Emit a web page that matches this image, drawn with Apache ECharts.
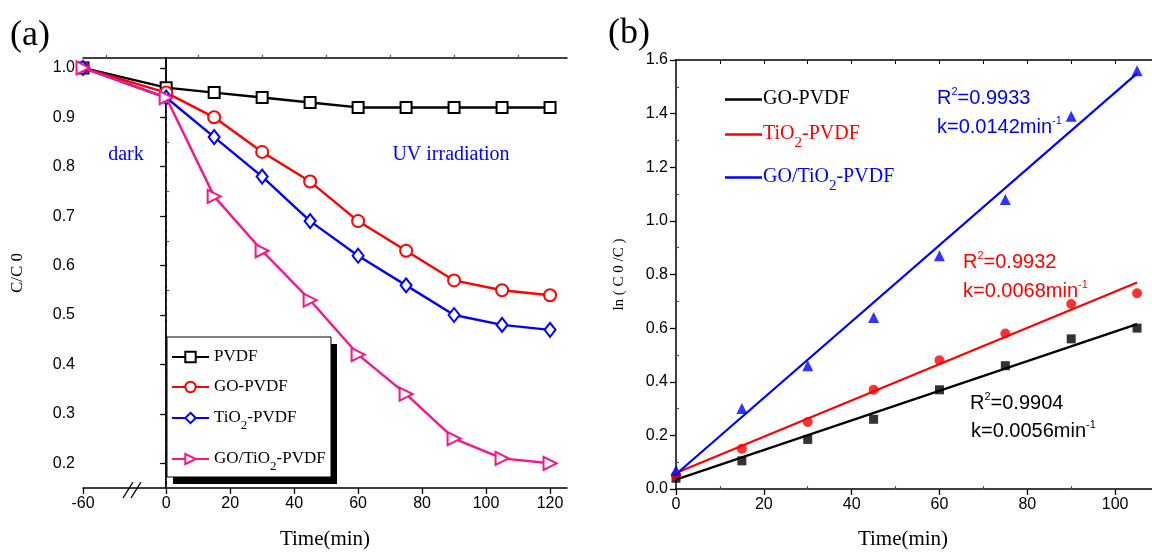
<!DOCTYPE html>
<html><head><meta charset="utf-8">
<script src="https://cdn.jsdelivr.net/npm/echarts@6/dist/echarts.min.js"></script>
<style>html,body{margin:0;padding:0;background:#fff}#c{width:1152px;height:555px}</style>
</head><body><div id="c"></div>
<script>
// ---------- Panel (a) data ----------
const timeA = [-60, 0, 15, 30, 45, 60, 75, 90, 105, 120];
const pvdf       = [1.00, 0.96, 0.95, 0.94, 0.93, 0.92, 0.92, 0.92, 0.92, 0.92];
const goPvdf     = [1.00, 0.95, 0.90, 0.83, 0.77, 0.69, 0.63, 0.57, 0.55, 0.54];
const tio2Pvdf   = [1.00, 0.94, 0.86, 0.78, 0.69, 0.62, 0.56, 0.50, 0.48, 0.47];
const goTio2Pvdf = [1.00, 0.94, 0.74, 0.63, 0.53, 0.42, 0.34, 0.25, 0.21, 0.20];
const xTicksA = [-60, 0, 20, 40, 60, 80, 100, 120];
const yTicksA = [0.2, 0.3, 0.4, 0.5, 0.6, 0.7, 0.8, 0.9, 1.0];
const darkEnd = 0;
const namesA = ['PVDF', 'GO-PVDF', 'TiO2-PVDF', 'GO/TiO2-PVDF'];

// ---------- Panel (b) data ----------
const timeB = [0, 15, 30, 45, 60, 75, 90, 105];
const lnGo     = [0.04, 0.105, 0.185, 0.26, 0.37, 0.46, 0.56, 0.60];
const lnTio2   = [0.05, 0.15, 0.25, 0.37, 0.48, 0.58, 0.69, 0.73];
const lnGoTio2 = [0.07, 0.30, 0.46, 0.64, 0.87, 1.08, 1.39, 1.56];
const fitTime    = [0, 105];
const fitGo      = [0.035, 0.615];
const fitTio2    = [0.06, 0.77];
const fitGoTio2  = [0.055, 1.55];
const xTicksB = [0, 20, 40, 60, 80, 100];
const namesB = ['GO-PVDF', 'TiO2-PVDF', 'GO/TiO2-PVDF'];
const fitTexts = [
  ['0.9904', '0.0056'],
  ['0.9932', '0.0068'],
  ['0.9933', '0.0142']
];

// ---------- helpers ----------
const SERIF = 'Liberation Serif';
const SANS = 'Liberation Sans';
const BREAK_U = -26;               // axis position used for the broken -60 segment
const xA = t => (t < 0 ? BREAK_U * (t / -60) : t);
const mapA = arr => timeA.map((t, i) => [xA(t), arr[i]]);
const mapB = (xs, arr) => xs.map((t, i) => [t, arr[i]]);
const PFX = 'b:';
const subFmt = name => name.replace(PFX, '').replace(/TiO2/g, 'TiO}{s|2}{n|').replace(/^/, '{n|') + '}';

const colA = ['#000000', '#ff0000', '#0000ff', '#f5168a'];
const colB = ['#000000', '#ff0000', '#0000ff'];

const chart = echarts.init(document.getElementById('c'), null, {renderer: 'canvas'});

const lblStyle = {fontFamily: SANS, fontSize: 16, color: '#000'};
const axLine = {lineStyle: {color: '#000', width: 1.5}};

const xAxisA_major = xTicksA.map(xA);
const xAxisA_minor = [-18.75, 10, 30, 50, 70, 90, 110];
const yA_minor = [0.25, 0.35, 0.45, 0.55, 0.65, 0.75, 0.85, 0.95];
const xB_minor = [10, 30, 50, 70, 90];
const xB_top = [10, 20, 30, 40, 50, 60, 70, 80, 90, 100];
const yB_minor = [0.1, 0.3, 0.5, 0.7, 0.9, 1.1, 1.3, 1.5];
const XB_MAX = 108.4;

const option = {
  backgroundColor: '#fff',
  animation: false,
  grid: [
    {left: 83, top: 58, width: 484, height: 432, show: false},
    {left: 676, top: 60, right: 0, height: 433, show: false}
  ],
  xAxis: [
    {gridIndex: 0, type: 'value', min: BREAK_U, max: 125.3, axisLine: axLine,
     axisTick: {length: 6, lineStyle: {width: 1.3}, customValues: xAxisA_major},
     axisLabel: Object.assign({customValues: xAxisA_major, margin: 8,
       formatter: v => (v === BREAK_U ? String(xTicksA[0]) : String(v))}, lblStyle),
     splitLine: {show: false},
     name: 'Time(min)', nameLocation: 'middle', nameGap: 41,
     nameTextStyle: {fontFamily: SERIF, fontSize: 21, color: '#000'}},
    {gridIndex: 0, type: 'value', min: BREAK_U, max: 125.3, axisLine: {show: false},
     axisTick: {length: 3, lineStyle: {width: 1.2}, customValues: xAxisA_minor},
     axisLabel: {show: false}, splitLine: {show: false}},
    {gridIndex: 0, type: 'value', position: 'top', min: BREAK_U, max: 125.3, axisLine: axLine,
     axisTick: {show: false}, axisLabel: {show: false}, splitLine: {show: false}},
    {gridIndex: 1, type: 'value', min: 0, max: XB_MAX, axisLine: axLine,
     axisTick: {length: 6, lineStyle: {width: 1.3}, customValues: xTicksB},
     axisLabel: Object.assign({customValues: xTicksB, margin: 8}, lblStyle),
     splitLine: {show: false},
     name: 'Time(min)', nameLocation: 'middle', nameGap: 40,
     nameTextStyle: {fontFamily: SERIF, fontSize: 21, color: '#000', padding: [0, 22, 0, 0]}},
    {gridIndex: 1, type: 'value', min: 0, max: XB_MAX, axisLine: {show: false},
     axisTick: {length: 3, lineStyle: {width: 1.2}, customValues: xB_minor},
     axisLabel: {show: false}, splitLine: {show: false}},
    {gridIndex: 1, type: 'value', position: 'top', min: 0, max: XB_MAX, axisLine: axLine,
     axisTick: {inside: true, length: 4, lineStyle: {width: 1}, customValues: xB_top},
     axisLabel: {show: false}, splitLine: {show: false}}
  ],
  yAxis: [
    {gridIndex: 0, type: 'value', min: 0.15, max: 1.02, axisLine: axLine,
     axisTick: {length: 6, lineStyle: {width: 1.3}, customValues: yTicksA},
     axisLabel: Object.assign({customValues: yTicksA, margin: 8, formatter: v => v.toFixed(1)}, lblStyle),
     splitLine: {show: false},
     name: 'C/C 0', nameLocation: 'middle', nameGap: 57,
     nameTextStyle: {fontFamily: SERIF, fontSize: 17, color: '#000'}},
    {gridIndex: 0, type: 'value', min: 0.15, max: 1.02, axisLine: {show: false},
     axisTick: {length: 3, lineStyle: {width: 1.2}, customValues: yA_minor},
     axisLabel: {show: false}, splitLine: {show: false}},
    {gridIndex: 0, type: 'value', position: 'right', min: 0.15, max: 1.02, axisLine: axLine,
     axisTick: {inside: true, length: 5, lineStyle: {width: 1}, customValues: yTicksA},
     axisLabel: {show: false}, splitLine: {show: false}},
    {gridIndex: 1, type: 'value', min: 0, max: 1.6, interval: 0.2, axisLine: axLine,
     axisTick: {length: 6, lineStyle: {width: 1.3}},
     axisLabel: Object.assign({margin: 8, formatter: v => v.toFixed(1)}, lblStyle),
     splitLine: {show: false},
     name: 'ln ( C 0 /C )', nameLocation: 'middle', nameGap: 49,
     nameTextStyle: {fontFamily: SERIF, fontSize: 15, color: '#000'}},
    {gridIndex: 1, type: 'value', min: 0, max: 1.6, axisLine: {show: false},
     axisTick: {length: 3, lineStyle: {width: 1.2}, customValues: yB_minor},
     axisLabel: {show: false}, splitLine: {show: false}}
  ],
  legend: [],
  series: [],
  graphic: []
};

// ---------- panel (a) series ----------
const symA = [
  {symbol: 'emptyRect', symbolSize: 11},
  {symbol: 'emptyCircle', symbolSize: 12},
  {symbol: 'emptyDiamond', symbolSize: [11, 14]},
  {symbol: 'emptyTriangle', symbolSize: 13, symbolRotate: -90}
];
[pvdf, goPvdf, tio2Pvdf, goTio2Pvdf].forEach((arr, i) => {
  const s = Object.assign({
    type: 'line', name: namesA[i], xAxisIndex: 0, yAxisIndex: 0,
    data: mapA(arr), z: 3 + i,
    lineStyle: {color: colA[i], width: 2.4},
    itemStyle: {color: colA[i], borderColor: colA[i], borderWidth: 1.3}
  }, symA[i]);
  if (i === 0) {
    s.markLine = {
      silent: true, symbol: 'none', label: {show: false},
      lineStyle: {type: [4, 3], color: '#333', width: 1},
      data: [[{coord: [darkEnd, 0.15]}, {coord: [darkEnd, goTio2Pvdf[1]]}]]
    };
  }
  option.series.push(s);
});
// legends for panel (a)
const legTopsA = [348, 378, 409, 450];
namesA.forEach((n, i) => {
  option.legend.push({
    data: [n], left: 171, top: legTopsA[i], orient: 'vertical', padding: 0,
    itemWidth: 37, itemHeight: 13, z: 20, selectedMode: false,
    formatter: subFmt,
    textStyle: {rich: {
      n: {fontFamily: SERIF, fontSize: 17, color: '#000', lineHeight: 18, verticalAlign: 'top'},
      s: {fontFamily: SERIF, fontSize: 13, color: '#000', lineHeight: 13, padding: [10, 0, 0, 0], verticalAlign: 'top'}
    }}
  });
});

// ---------- panel (b) series ----------
const symB = [
  {symbol: 'rect', symbolSize: 9},
  {symbol: 'circle', symbolSize: 10},
  {symbol: 'triangle', symbolSize: 11}
];
[lnGo, lnTio2, lnGoTio2].forEach((arr, i) => {
  option.series.push(Object.assign({
    type: 'scatter', name: PFX + namesB[i] + ' data', xAxisIndex: 3, yAxisIndex: 3,
    data: mapB(timeB, arr), itemStyle: {color: colB[i]}, z: 3
  }, symB[i]));
});
[fitGo, fitTio2, fitGoTio2].forEach((arr, i) => {
  option.series.push({
    type: 'line', name: PFX + namesB[i], xAxisIndex: 3, yAxisIndex: 3,
    data: mapB(fitTime, arr), symbol: 'none', z: 4,
    lineStyle: {color: colB[i], width: 2.2}, itemStyle: {color: colB[i]}
  });
});
const legTopsB = [89, 124, 167];
namesB.forEach((n, i) => {
  option.legend.push({
    data: [PFX + n], left: 725, top: legTopsB[i], padding: 0,
    icon: 'rect', itemWidth: 37, itemHeight: 2.6, itemGap: 0, selectedMode: false,
    formatter: subFmt,
    textStyle: {padding: [0, 0, 0, -4], rich: {
      n: {fontFamily: SERIF, fontSize: 20, color: colB[i], lineHeight: 21, verticalAlign: 'top'},
      s: {fontFamily: SERIF, fontSize: 15, color: colB[i], lineHeight: 15, padding: [12, 0, 0, 0], verticalAlign: 'top'}
    }}
  });
});

// ---------- texts ----------
function richText(x, y, parts, color, size) {
  return {
    type: 'text', x: x, y: y, z: 30, silent: true,
    style: {
      text: parts, fill: color, font: size + 'px "' + SANS + '"', verticalAlign: 'middle',
      rich: {
        n: {fontSize: size, fontFamily: SANS, fill: color, verticalAlign: 'bottom', lineHeight: size + 2},
        u: {fontSize: 11, fontFamily: SANS, fill: color, verticalAlign: 'top', lineHeight: 11}
      }
    }
  };
}
const annPos = [[970, 402, 971, 430], [963, 261, 963, 290], [937, 97, 937, 126]];
fitTexts.forEach((t, i) => {
  const p = annPos[i];
  option.graphic.push(richText(p[0], p[1], '{n|R}{u|2}{n|=' + t[0] + '}', colB[i], 20));
  option.graphic.push(richText(p[2], p[3], '{n|k=' + t[1] + 'min}{u|-1}', colB[i], 20));
});

const serifTxt = (x, y, text, size, color, align) => ({
  type: 'text', x: x, y: y, z: 30, silent: true,
  style: {text: text, fill: color, font: size + 'px "' + SERIF + '"', align: align || 'center', verticalAlign: 'middle'}
});
option.graphic.push(serifTxt(30, 36, '(a)', 36, '#000'));
option.graphic.push(serifTxt(629, 34, '(b)', 36, '#000'));
option.graphic.push(serifTxt(126, 155, 'dark', 20, '#0000ff'));
option.graphic.push(serifTxt(451, 155, 'UV irradiation', 20, '#0000ff'));

// legend box with solid shadow (panel a)
option.graphic.push({type: 'rect', z: 15, silent: true,
  shape: {x: 173, y: 344, width: 164, height: 140}, style: {fill: '#000'}});
option.graphic.push({type: 'rect', z: 16, silent: true,
  shape: {x: 167, y: 337, width: 164, height: 140}, style: {fill: '#fff', stroke: '#000', lineWidth: 1}});
// axis break marks
option.graphic.push({type: 'line', z: 30, silent: true, shape: {x1: 123, y1: 498, x2: 133, y2: 482}, style: {stroke: '#000', lineWidth: 1.4}});
option.graphic.push({type: 'line', z: 30, silent: true, shape: {x1: 131, y1: 498, x2: 141, y2: 482}, style: {stroke: '#000', lineWidth: 1.4}});

chart.setOption(option);
</script>
</body></html>
